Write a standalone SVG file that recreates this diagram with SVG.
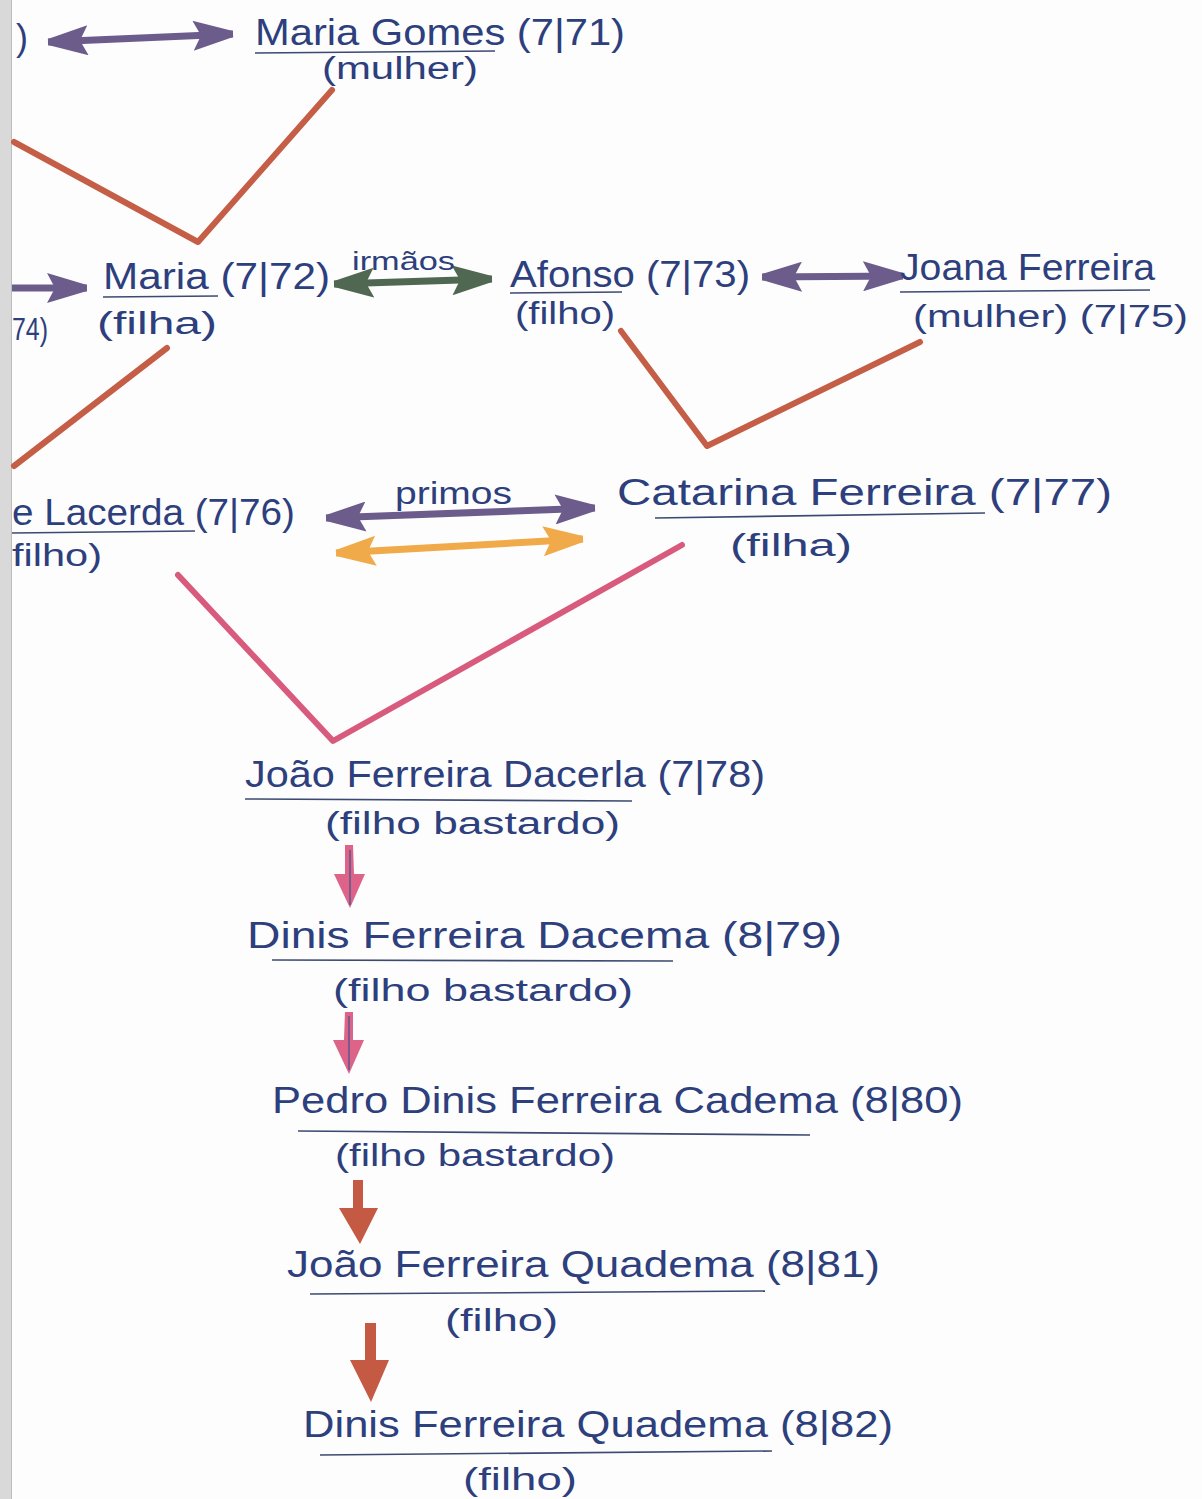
<svg xmlns="http://www.w3.org/2000/svg" width="1202" height="1499" viewBox="0 0 1202 1499">
<style>
text{font-family:"Liberation Sans","DejaVu Sans",sans-serif;fill:#2d3f7c}
.n{font-size:36px}
.s{font-size:31px}
.l{font-size:26px}
.u{stroke:#3c4a72;stroke-width:1.6;fill:none}
.v{fill:none;stroke-width:6;stroke-linecap:round;stroke-linejoin:round}
.ha{fill:none;stroke-width:7;stroke-linecap:butt}
</style>
<defs>
<marker id="mp" viewBox="0 0 40 30" refX="40" refY="15" markerWidth="40" markerHeight="30" markerUnits="userSpaceOnUse" orient="auto-start-reverse"><path d="M0,0 L40,12 L40,18 L0,30 L8,15 Z" fill="#6c5c8c"/></marker>
<marker id="mg" viewBox="0 0 40 30" refX="40" refY="15" markerWidth="40" markerHeight="30" markerUnits="userSpaceOnUse" orient="auto-start-reverse"><path d="M0,0 L40,12 L40,18 L0,30 L8,15 Z" fill="#506852"/></marker>
<marker id="mo" viewBox="0 0 40 30" refX="40" refY="15" markerWidth="40" markerHeight="30" markerUnits="userSpaceOnUse" orient="auto-start-reverse"><path d="M0,0 L40,12 L40,18 L0,30 L8,15 Z" fill="#f0aa4a"/></marker>
</defs>
<rect x="0" y="0" width="1202" height="1499" fill="#fdfdfd"/>
<rect x="0" y="0" width="11" height="1499" fill="#d9d9d9"/>
<line x1="11.5" y1="0" x2="11.5" y2="1499" stroke="#bdbdbd" stroke-width="1"/>

<g id="connectors">
<path class="ha" d="M48,42 L233,34" stroke="#6c5c8c" marker-start="url(#mp)" marker-end="url(#mp)"/>
<path class="v" d="M14,142 L198,242 L332,90" stroke="#c45e46" stroke-width="7"/>
<path class="ha" d="M12,288 L87,288" stroke="#6c5c8c" marker-end="url(#mp)"/>
<path class="ha" d="M334,284 L492,279" stroke="#506852" marker-start="url(#mg)" marker-end="url(#mg)"/>
<path class="ha" d="M762,277 L903,276" stroke="#6c5c8c" marker-start="url(#mp)" marker-end="url(#mp)"/>
<path class="v" d="M167,348 L14,466" stroke="#c45e46"/>
<path class="v" d="M621,331 L707,446 L920,342" stroke="#c45e46"/>
<path class="ha" d="M326,518 L595,508" stroke="#6c5c8c" marker-start="url(#mp)" marker-end="url(#mp)"/>
<path class="ha" d="M336,553 L583,539" stroke="#f0aa4a" marker-start="url(#mo)" marker-end="url(#mo)"/>
<path class="v" d="M178,575 L333,741 L682,545" stroke="#d85b7e" stroke-width="4"/>
<path d="M345,845 L353,845 L354,874 L365,874 L350,908 L334,874 L345,874 Z" fill="#dd6488"/>
<path d="M350,850 L350,905" stroke="#7a5a8a" stroke-width="2"/>
<path d="M345,1012 L353,1012 L353,1040 L364,1040 L349,1074 L333,1040 L344,1040 Z" fill="#dd6488"/>
<path d="M349,1016 L349,1070" stroke="#7a5a8a" stroke-width="2"/>
<path d="M353,1180 L363,1180 L363,1208 L378,1208 L360,1244 L339,1208 L353,1208 Z" fill="#c45a44"/>
<path d="M365,1323 L376,1323 L376,1360 L389,1360 L371,1402 L350,1360 L365,1360 Z" fill="#c45a44"/>
</g>

<g id="n-top-left"><text class="n" x="16" y="50">)</text></g>
<g id="n-maria-gomes">
<text class="n" x="255" y="45" textLength="370" lengthAdjust="spacingAndGlyphs">Maria Gomes (7|71)</text>
<line class="u" x1="255" y1="53" x2="495" y2="51"/>
<text class="s" x="322" y="79" textLength="156" lengthAdjust="spacingAndGlyphs">(mulher)</text>
</g>
<g id="n-74"><text class="s" x="12" y="340" textLength="36" lengthAdjust="spacingAndGlyphs">74)</text></g>
<g id="n-maria">
<text class="n" x="103" y="289" textLength="227" lengthAdjust="spacingAndGlyphs">Maria (7|72)</text>
<line class="u" x1="103" y1="297" x2="218" y2="296"/>
<text class="s" x="97" y="334" textLength="120" lengthAdjust="spacingAndGlyphs">(filha)</text>
</g>
<g id="l-irmaos"><text class="l" x="352" y="270" textLength="103" lengthAdjust="spacingAndGlyphs">irmãos</text></g>
<g id="n-afonso">
<text class="n" x="510" y="287" textLength="240" lengthAdjust="spacingAndGlyphs">Afonso (7|73)</text>
<line class="u" x1="510" y1="293" x2="622" y2="292"/>
<text class="s" x="515" y="324" textLength="100" lengthAdjust="spacingAndGlyphs">(filho)</text>
</g>
<g id="n-joana">
<text class="n" x="900" y="280" textLength="255" lengthAdjust="spacingAndGlyphs">Joana Ferreira</text>
<line class="u" x1="900" y1="292" x2="1150" y2="290"/>
<text class="s" x="913" y="327" textLength="275" lengthAdjust="spacingAndGlyphs">(mulher) (7|75)</text>
</g>
<g id="n-lacerda">
<text class="n" x="12" y="525" textLength="283" lengthAdjust="spacingAndGlyphs">e Lacerda (7|76)</text>
<line class="u" x1="12" y1="533" x2="195" y2="531"/>
<text class="s" x="12" y="566" textLength="90" lengthAdjust="spacingAndGlyphs">filho)</text>
</g>
<g id="l-primos"><text class="s" x="395" y="504" textLength="117" lengthAdjust="spacingAndGlyphs">primos</text></g>
<g id="n-catarina">
<text class="n" x="617" y="505" textLength="495" lengthAdjust="spacingAndGlyphs">Catarina Ferreira (7|77)</text>
<line class="u" x1="655" y1="518" x2="985" y2="513"/>
<text class="s" x="730" y="556" textLength="122" lengthAdjust="spacingAndGlyphs">(filha)</text>
</g>
<g id="n-joao-dacerla">
<text class="n" x="245" y="787" textLength="520" lengthAdjust="spacingAndGlyphs">João Ferreira Dacerla (7|78)</text>
<line class="u" x1="245" y1="799" x2="632" y2="801"/>
<text class="s" x="325" y="834" textLength="295" lengthAdjust="spacingAndGlyphs">(filho bastardo)</text>
</g>
<g id="n-dinis-dacema">
<text class="n" x="247" y="948" textLength="595" lengthAdjust="spacingAndGlyphs">Dinis Ferreira Dacema (8|79)</text>
<line class="u" x1="272" y1="960" x2="673" y2="961"/>
<text class="s" x="333" y="1001" textLength="300" lengthAdjust="spacingAndGlyphs">(filho bastardo)</text>
</g>
<g id="n-pedro">
<text class="n" x="272" y="1113" textLength="691" lengthAdjust="spacingAndGlyphs">Pedro Dinis Ferreira Cadema (8|80)</text>
<line class="u" x1="298" y1="1131" x2="810" y2="1135"/>
<text class="s" x="335" y="1166" textLength="280" lengthAdjust="spacingAndGlyphs">(filho bastardo)</text>
</g>
<g id="n-joao-quadema">
<text class="n" x="287" y="1277" textLength="593" lengthAdjust="spacingAndGlyphs">João Ferreira Quadema (8|81)</text>
<line class="u" x1="310" y1="1294" x2="765" y2="1291"/>
<text class="s" x="445" y="1331" textLength="113" lengthAdjust="spacingAndGlyphs">(filho)</text>
</g>
<g id="n-dinis-quadema">
<text class="n" x="303" y="1437" textLength="590" lengthAdjust="spacingAndGlyphs">Dinis Ferreira Quadema (8|82)</text>
<line class="u" x1="320" y1="1455" x2="772" y2="1451"/>
<text class="s" x="463" y="1490" textLength="114" lengthAdjust="spacingAndGlyphs">(filho)</text>
</g>
</svg>
